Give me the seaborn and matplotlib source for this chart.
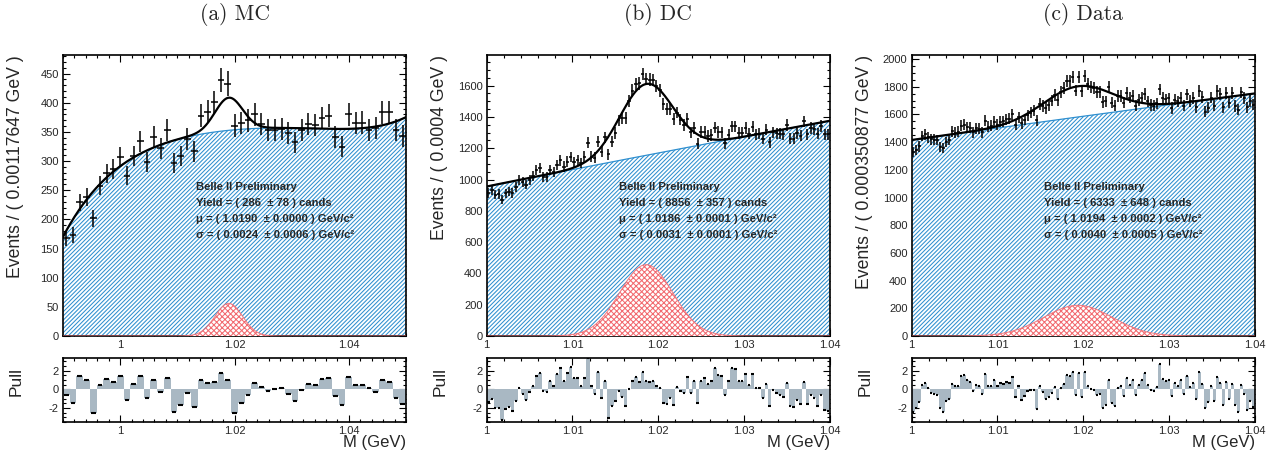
import numpy as np
import matplotlib
matplotlib.use("Agg")
import matplotlib.pyplot as plt
import seaborn as sns
from matplotlib.ticker import MultipleLocator, FuncFormatter

# ---------------------------------------------------------------- data
panel_titles = ["(a) MC", "(b) DC", "(c) Data"]
mass_ranges = [(0.99, 1.05), (1.00, 1.04), (1.00, 1.04)]
bin_labels = ["0.00117647", "0.0004", "0.000350877"]

yields = [286, 8856, 6333]
yield_errs = [78, 357, 648]
mus = [1.0190, 1.0186, 1.0194]
mu_errs = [0.0000, 0.0001, 0.0002]
sigmas = [0.0024, 0.0031, 0.0040]
sigma_errs = [0.0006, 0.0001, 0.0005]

# background shape, given by its value at a few masses
mc_bg_mass = [0.99, 0.995, 1.0, 1.005, 1.01, 1.015, 1.02, 1.025, 1.03, 1.035, 1.04, 1.045, 1.05]
mc_bg_level = [170, 245, 292, 319, 336, 348, 355, 357, 356, 355, 355, 361, 375]
dc_bg_mass = [1.00, 1.01, 1.02, 1.03, 1.04]
dc_bg_level = [955, 1065, 1170, 1272, 1376]
data_bg_mass = [1.00, 1.01, 1.02, 1.03, 1.04]
data_bg_level = [1415, 1502, 1588, 1668, 1752]

mc_counts = [168, 173, 229, 239, 202, 258, 279, 286, 307, 275,
             309, 334, 299, 341, 322, 354, 297, 309, 338, 317,
             378, 385, 401, 439, 433, 361, 365, 370, 380, 364,
             354, 354, 355, 348, 332, 354, 364, 362, 374, 378,
             341, 325, 380, 365, 366, 354, 357, 384, 384, 354, 343]
mc_pulls = [-0.6, -1.5, 1.4, 1.0, -2.5, 0.5, 1.1, 0.8, 1.4, -1.1,
            0.6, 1.4, -0.9, 1.0, -0.3, 1.2, -2.4, -1.7, -0.4, -1.9,
            1.0, 0.7, 0.8, 1.7, 1.0, -2.5, -1.5, -0.6, 0.7, 0.2,
            -0.2, 0.0, 0.1, -0.5, -1.2, -0.1, 0.6, 0.5, 1.1, 1.2,
            -0.7, -1.7, 1.3, 0.5, 0.5, 0.1, -0.3, 1.0, 0.8, -0.9, -1.6]

dc_counts = [914, 930, 904, 908, 871, 912, 923, 915, 953, 998,
             983, 968, 998, 1022, 1061, 1074, 1018, 1019, 1062, 1048,
             1095, 1122, 1083, 1115, 1144, 1113, 1122, 1107, 1146, 1234,
             1147, 1140, 1243, 1177, 1270, 1161, 1242, 1297, 1378, 1394,
             1394, 1500, 1568, 1612, 1615, 1674, 1642, 1639, 1636, 1598,
             1570, 1482, 1452, 1448, 1387, 1428, 1383, 1348, 1387, 1302,
             1330, 1229, 1304, 1306, 1278, 1285, 1331, 1304, 1301, 1232,
             1287, 1340, 1340, 1297, 1300, 1329, 1294, 1338, 1289, 1293,
             1261, 1319, 1237, 1302, 1296, 1292, 1289, 1348, 1261, 1262,
             1295, 1280, 1372, 1289, 1330, 1323, 1294, 1343, 1288, 1288]
dc_pulls = [-1.4, -1.0, -2.0, -2.0, -3.3, -2.1, -1.9, -2.3, -1.2, 0.1,
            -0.5, -1.1, -0.3, 0.3, 1.4, 1.7, -0.2, -0.3, 0.9, 0.3,
            1.6, 2.3, 0.9, 1.7, 2.4, 1.2, 1.2, 0.4, 1.2, 3.4,
            0.3, -0.5, 1.8, -0.9, 0.9, -3.1, -1.8, -1.3, -0.2, -0.8,
            -1.8, 0.0, 0.9, 1.3, 0.8, 1.9, 0.9, 0.8, 0.9, 0.3,
            0.1, -1.5, -1.6, -0.9, -1.7, 0.2, -0.2, -0.4, 1.3, -0.4,
            0.9, -1.5, 0.9, 1.2, 0.6, 0.9, 2.3, 1.5, 1.4, -0.6,
            0.9, 2.3, 2.2, 0.9, 0.9, 1.6, 0.5, 1.6, 0.1, 0.1,
            -0.9, 0.6, -1.8, -0.1, -0.4, -0.6, -0.8, 0.7, -1.8, -1.9,
            -1.1, -1.6, 0.8, -1.6, -0.6, -0.9, -1.8, -0.6, -2.2, -2.3]

data_counts = [1327, 1344, 1369, 1444, 1455, 1435, 1419, 1418, 1417, 1367,
               1355, 1399, 1414, 1478, 1469, 1476, 1518, 1525, 1509, 1505,
               1470, 1500, 1497, 1470, 1555, 1510, 1518, 1547, 1525, 1546,
               1549, 1564, 1568, 1601, 1527, 1581, 1536, 1563, 1595, 1612,
               1626, 1559, 1674, 1661, 1647, 1669, 1700, 1739, 1701, 1760,
               1792, 1840, 1844, 1868, 1772, 1872, 1768, 1878, 1817, 1797,
               1789, 1762, 1760, 1689, 1694, 1798, 1685, 1664, 1734, 1734,
               1685, 1756, 1721, 1734, 1663, 1704, 1721, 1747, 1694, 1669,
               1663, 1679, 1781, 1717, 1709, 1715, 1646, 1706, 1695, 1722,
               1663, 1744, 1697, 1720, 1653, 1771, 1724, 1620, 1648, 1721,
               1662, 1768, 1746, 1650, 1756, 1684, 1754, 1661, 1635, 1759,
               1720, 1652, 1696, 1670]
data_pulls = [-2.4, -2.0, -1.4, 0.5, 0.7, 0.1, -0.4, -0.5, -0.6, -2.0,
              -2.4, -1.3, -1.0, 0.6, 0.3, 0.4, 1.4, 1.5, 1.0, 0.8,
              -0.2, 0.5, 0.3, -0.5, 1.6, 0.3, 0.4, 1.0, 0.3, 0.7,
              0.6, 0.8, 0.7, 1.3, -0.8, 0.3, -1.1, -0.7, -0.2, -0.1,
              -0.1, -2.1, 0.4, -0.3, -1.0, -0.8, -0.4, 0.2, -1.0, 0.1,
              0.6, 1.5, 1.4, 1.8, -0.6, 1.7, -0.8, 1.8, 0.4, 0.0,
              -0.1, -0.6, -0.5, -2.0, -1.7, 1.0, -1.5, -1.8, 0.1, 0.3,
              -0.7, 1.2, 0.5, 1.0, -0.6, 0.5, 1.0, 1.7, 0.5, -0.1,
              -0.2, 0.2, 2.7, 1.1, 0.9, 1.0, -0.7, 0.7, 0.4, 1.0,
              -0.5, 1.4, 0.2, 0.7, -1.0, 1.8, 0.6, -2.0, -1.4, 0.3,
              -1.2, 1.3, 0.7, -1.7, 0.8, -1.0, 0.6, -1.7, -2.4, 0.5,
              -0.5, -2.2, -1.2, -1.9]

counts_all = [mc_counts, dc_counts, data_counts]
pulls_all = [mc_pulls, dc_pulls, data_pulls]
bg_points = [(mc_bg_mass, mc_bg_level, 5), (dc_bg_mass, dc_bg_level, 2),
             (data_bg_mass, data_bg_level, 2)]

# ---------------------------------------------------------------- style
sns.set_theme(style="ticks")
plt.rcParams["font.family"] = ["Liberation Sans", "DejaVu Sans"]
plt.rcParams["hatch.linewidth"] = 0.75
plt.rcParams["axes.linewidth"] = 1.2

BLUE = "#2f8fcf"
RED = "#f26a70"
PULL_GREY = "#a9b8c3"

W, H = 1277, 459
fig = plt.figure(figsize=(W / 100, H / 100), dpi=100)
lefts = [63, 486.7, 911.7]
ax_w = 343
main_top, main_bot = 55, 336
pull_top, pull_bot = 358, 422

y_limits = [482, 1796, 2029]
y_major = [50, 200, 200]
y_minor = [10, 50, 50]
x_major = [0.02, 0.01, 0.01]
x_minor = [0.002, 0.002, 0.002]

fmt = FuncFormatter(lambda v, p: f"{v:g}")


def style_axis(ax, xmaj, xmin, ymaj, ymin):
    ax.xaxis.set_major_locator(MultipleLocator(xmaj))
    ax.xaxis.set_minor_locator(MultipleLocator(xmin))
    ax.yaxis.set_major_locator(MultipleLocator(ymaj))
    ax.yaxis.set_minor_locator(MultipleLocator(ymin))
    ax.xaxis.set_major_formatter(fmt)
    ax.yaxis.set_major_formatter(fmt)
    ax.tick_params(which="both", direction="in", top=True, right=True,
                   width=0.8, color="black", labelsize=8, pad=3)
    ax.tick_params(which="major", length=5)
    ax.tick_params(which="minor", length=2.5)
    for s in ax.spines.values():
        s.set_color("black")
        s.set_linewidth(1.2)


for k in range(3):
    lo, hi = mass_ranges[k]
    counts = np.array(counts_all[k], dtype=float)
    pulls = np.array(pulls_all[k], dtype=float)
    n = len(counts)
    bw = (hi - lo) / n
    centers = lo + (np.arange(n) + 0.5) * bw

    bx, by, deg = bg_points[k]
    coef = np.polyfit(np.array(bx) - 1.02, by, deg)
    xs = np.linspace(lo, hi, 800)
    bg = np.polyval(coef, xs - 1.02)
    peak = yields[k] * bw / (sigmas[k] * np.sqrt(2 * np.pi))
    sig = peak * np.exp(-0.5 * ((xs - mus[k]) / sigmas[k]) ** 2)

    L = lefts[k]
    ax = fig.add_axes([L / W, 1 - main_bot / H, ax_w / W, (main_bot - main_top) / H])
    axp = fig.add_axes([L / W, 1 - pull_bot / H, ax_w / W, (pull_bot - pull_top) / H])

    # background component
    ax.fill_between(xs, 0, bg, facecolor="white", edgecolor=BLUE, hatch="////////",
                    linewidth=0, zorder=1)
    sns.lineplot(x=xs, y=bg, ax=ax, color=BLUE, linewidth=0.9, zorder=2)
    # signal component
    ax.fill_between(xs, 0, sig, facecolor="white", edgecolor=RED, hatch="xxxxxx",
                    linewidth=0, zorder=3)
    ax.plot(xs, sig, color=RED, linewidth=0.8, alpha=0.8, zorder=3)
    # data
    ax.errorbar(centers, counts, yerr=np.sqrt(counts), xerr=bw / 2, fmt="none",
                ecolor="black", elinewidth=1.1, capsize=0, zorder=4)
    # total fit
    sns.lineplot(x=xs, y=bg + sig, ax=ax, color="black", linewidth=1.6, zorder=5)

    ax.set_xlim(lo, hi)
    ax.set_ylim(0, y_limits[k])
    ax.set_xlabel("")
    ax.set_ylabel("")
    style_axis(ax, x_major[k], x_minor[k], y_major[k], y_minor[k])

    tx = 0.387
    lines = [
        "Belle II Preliminary",
        f"Yield = ( {yields[k]}  \u00b1 {yield_errs[k]} ) cands",
        f"\u03bc = ( {mus[k]:.4f}  \u00b1 {mu_errs[k]:.4f} ) GeV/c\u00b2",
        f"\u03c3 = ( {sigmas[k]:.4f}  \u00b1 {sigma_errs[k]:.4f} ) GeV/c\u00b2",
    ]
    for j, t in enumerate(lines):
        ax.text(tx, 0.531 - j * 0.0575, t, transform=ax.transAxes, fontsize=8.1,
                fontweight="bold", ha="left", va="center", zorder=6)

    # pulls
    axp.bar(centers, pulls, width=bw, color=PULL_GREY, linewidth=0, zorder=1)
    axp.hlines(pulls, centers - 0.35 * bw, centers + 0.35 * bw, color="black",
               linewidth=1.5, zorder=2)
    axp.set_xlim(lo, hi)
    axp.set_ylim(-3.5, 3.35)
    style_axis(axp, x_major[k], x_minor[k], 2, 0.5)

    cx = (L + ax_w / 2) / W
    fig.text(cx, 1 - 15 / H, panel_titles[k], family="cmr10", fontsize=15.5,
             ha="center", va="center")
    lx = (L - 47) / W
    fig.text(lx, 1 - main_top / H, f"Events / ( {bin_labels[k]} GeV )",
             rotation=90, ha="center", va="top", fontsize=12.7)
    fig.text(lx, 1 - 382 / H, "Pull", rotation=90, ha="center", va="center",
             fontsize=12.5)
    fig.text((L + ax_w) / W, 1 - 442 / H, "M (GeV)", ha="right", va="center",
             fontsize=12)

fig.savefig("out.png", dpi=100)
